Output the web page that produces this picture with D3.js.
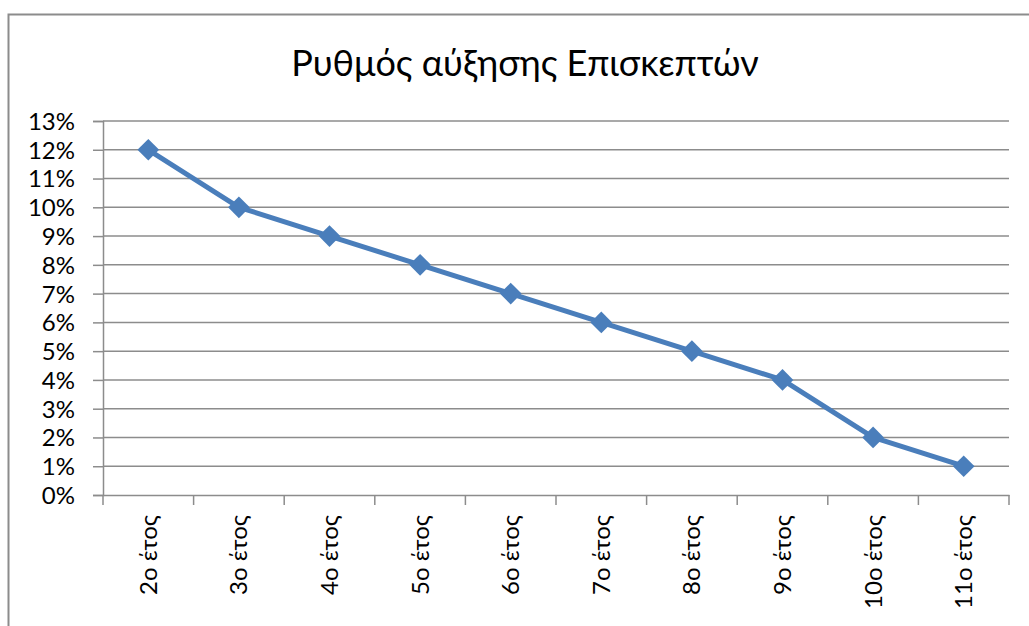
<!DOCTYPE html>
<html>
<head>
<meta charset="utf-8">
<script src="https://cdn.jsdelivr.net/npm/d3@7"></script>
<style>
  body { margin: 0; background: #fff; }
  text { font-family: Lato, "Noto Sans", sans-serif; fill: #000; }
</style>
</head>
<body>
<div id="chart"></div>
<script>
var title = 'Ρυθμός αύξησης Επισκεπτών';
var years = ['2ο έτος', '3ο έτος', '4ο έτος', '5ο έτος', '6ο έτος', '7ο έτος', '8ο έτος', '9ο έτος', '10ο έτος', '11ο έτος'];
var rates = [12, 10, 9, 8, 7, 6, 5, 4, 2, 1];
var yTicks = [0, 1, 2, 3, 4, 5, 6, 7, 8, 9, 10, 11, 12, 13];

var W = 1029, H = 626;
var margin = {top: 121, right: 20, bottom: 131, left: 103},
    width = 1009 - margin.left,
    height = 495 - margin.top;

var svg = d3.select('#chart').append('svg')
    .attr('width', W)
    .attr('height', H);

// outer chart border (cut off at right and bottom)
svg.append('path')
    .attr('d', 'M8.5,' + H + ' V14.5 H' + W)
    .attr('fill', 'none')
    .attr('stroke', '#8c8c8c')
    .attr('stroke-width', 2);

svg.append('text')
    .attr('x', 525)
    .attr('y', 76)
    .attr('text-anchor', 'middle')
    .style('font-size', '36px')
    .text(title);

var g = svg.append('g')
    .attr('transform', 'translate(' + margin.left + ',' + margin.top + ')');

var x = d3.scaleBand().domain(years).range([0, width]);
var y = d3.scaleLinear().domain([0, 13]).range([height, 0]);

// gridlines
g.selectAll('.grid')
    .data(yTicks.slice(1))
    .enter().append('line')
    .attr('class', 'grid')
    .attr('x1', 0).attr('x2', width)
    .attr('y1', function(d) { return y(d); })
    .attr('y2', function(d) { return y(d); })
    .attr('stroke', '#8c8c8c')
    .attr('stroke-width', 1.5);

// y axis
var yAxis = g.append('g')
    .call(d3.axisLeft(y).tickValues(yTicks).tickSize(10).tickPadding(18)
      .tickFormat(function(d) { return d + '%'; }));
yAxis.selectAll('text').style('font-size', '24px').attr('dy', '0.35em');

// x axis with ticks at band boundaries
var xAxis = g.append('g')
    .attr('transform', 'translate(0,' + height + ')')
    .call(d3.axisBottom(x).tickSize(0).tickPadding(0));
xAxis.selectAll('.tick text')
    .style('font-size', '24px')
    .attr('transform', 'rotate(-90)')
    .attr('text-anchor', 'end')
    .attr('x', -20)
    .attr('y', 0)
    .attr('dy', '0.35em');
xAxis.selectAll('.bound')
    .data(d3.range(years.length + 1))
    .enter().append('line')
    .attr('class', 'bound')
    .attr('x1', function(i) { return i * x.step(); })
    .attr('x2', function(i) { return i * x.step(); })
    .attr('y1', 0).attr('y2', 10);

svg.selectAll('.domain, .tick line, .bound')
    .attr('stroke', '#8c8c8c')
    .attr('stroke-width', 1.5);

// series line
var line = d3.line()
    .x(function(d, i) { return x(years[i]) + x.bandwidth() / 2; })
    .y(function(d) { return y(d); });

g.append('path')
    .datum(rates)
    .attr('d', line)
    .attr('fill', 'none')
    .attr('stroke', '#4a7ebb')
    .attr('stroke-width', 5)
    .attr('stroke-linejoin', 'round');

g.selectAll('.dot')
    .data(rates)
    .enter().append('path')
    .attr('class', 'dot')
    .attr('d', d3.symbol().type(d3.symbolDiamond2).size(300))
    .attr('transform', function(d, i) {
      return 'translate(' + (x(years[i]) + x.bandwidth() / 2) + ',' + y(d) + ')';
    })
    .attr('fill', '#4a7ebb');
</script>
</body>
</html>
